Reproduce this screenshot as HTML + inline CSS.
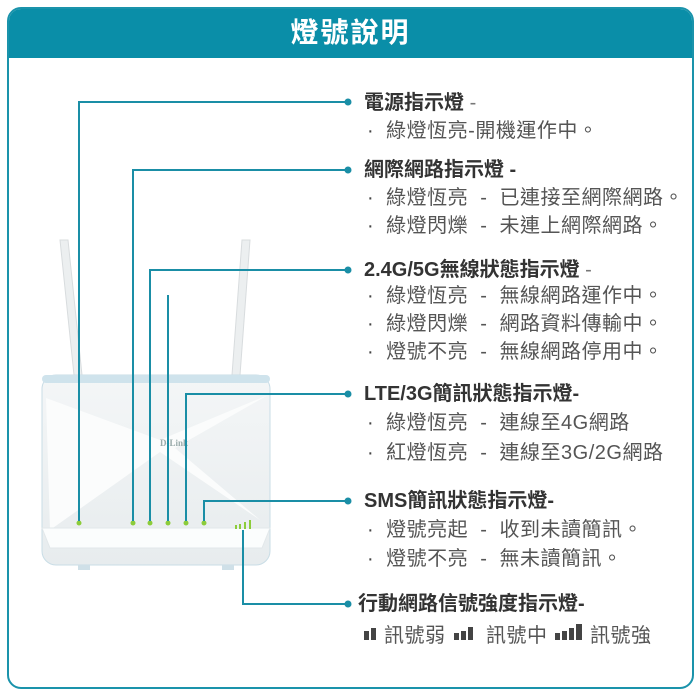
<!DOCTYPE html>
<html><head><meta charset="utf-8"><style>
body{margin:0;background:#fff;width:700px;height:696px;overflow:hidden;position:relative;font-family:"Liberation Sans","Noto Sans CJK TC",sans-serif}
.box{position:absolute;left:7px;top:7px;width:683px;height:678px;border:2px solid #1a93ab;border-radius:14px;overflow:hidden}
.hd{position:absolute;left:0;top:0;right:0;height:49px;background:#0a8ea8;color:#fff;font-size:28px;font-weight:bold;text-align:center;line-height:48px;letter-spacing:2px}
.t{position:absolute;left:364px;font-size:20px;color:#555;white-space:nowrap;line-height:24px;letter-spacing:0.5px}
.b{font-weight:bold;color:#333;letter-spacing:0}
.s{left:367px}
.s:before{content:"·";margin-right:12px;color:#444}
</style></head><body>
<div class="box"><div class="hd">燈號說明</div></div>
<svg width="700" height="696" style="position:absolute;left:0;top:0">
<defs><linearGradient id="g" x1="0" y1="0" x2="0" y2="1"><stop offset="0" stop-color="#f4f6f7"/><stop offset="1" stop-color="#e7ecee"/></linearGradient></defs>
<polygon points="60,240 68,240 82,375 74,375" fill="#eceff0" stroke="#d8dcde"/>
<polygon points="242,240 250,240 240,375 232,375" fill="#eceff0" stroke="#d8dcde"/>
<rect x="42" y="375" width="228" height="190" rx="14" fill="url(#g)" stroke="#c9dde6"/>
<rect x="42" y="375" width="228" height="8" rx="4" fill="#cfe3ec"/>
<polygon points="46,398 160,440 268,395 175,448 260,520 160,452 50,530" fill="#fbfcfc"/>
<polygon points="42,528 270,528 262,548 50,548" fill="#fbfdfd" stroke="#e2e8ea"/>
<text x="160" y="446" font-size="9" font-weight="bold" fill="#9aa" font-family="Liberation Serif">D-Link</text>
<rect x="78" y="565" width="12" height="5" fill="#cfe0e8"/><rect x="222" y="565" width="12" height="5" fill="#cfe0e8"/>
<g fill="#8ccc3a"><circle cx="79" cy="523" r="2.5"/><circle cx="133" cy="523" r="2.5"/><circle cx="150" cy="523" r="2.5"/><circle cx="168" cy="523" r="2.5"/><circle cx="186" cy="523" r="2.5"/><circle cx="204" cy="523" r="2.5"/>
<rect x="235" y="525" width="2" height="4"/><rect x="239" y="524" width="2" height="5"/><rect x="244" y="522" width="2" height="7"/><rect x="249" y="520" width="2" height="9"/></g>
<g stroke="#1a8ea6" stroke-width="2" fill="none">
<polyline points="79,521 79,102 346,102"/>
<polyline points="133,521 133,170 346,170"/>
<polyline points="150,521 150,270 346,270"/>
<line x1="168" y1="295" x2="168" y2="521"/>
<polyline points="186,521 186,394 346,394"/>
<polyline points="204,521 204,501 346,501"/>
<polyline points="243,530 243,604 346,604"/>
</g>
<g fill="#1a8ea6"><circle cx="348" cy="102" r="3.5"/><circle cx="348" cy="170" r="3.5"/><circle cx="348" cy="270" r="3.5"/><circle cx="348" cy="394" r="3.5"/><circle cx="348" cy="501" r="3.5"/><circle cx="348" cy="604" r="3.5"/></g>
<g fill="#444">
<rect x="364" y="631" width="5" height="9"/><rect x="371" y="628" width="5" height="12"/>
<rect x="454" y="633" width="5" height="7"/><rect x="461" y="631" width="5" height="9"/><rect x="468" y="627" width="5" height="13"/>
<rect x="555" y="633" width="5" height="7"/><rect x="562" y="631" width="5" height="9"/><rect x="569" y="628" width="5" height="12"/><rect x="576" y="624" width="6" height="16"/>
</g>
</svg>
<div class="t b" style="top:91px">電源指示燈 <span style="font-weight:normal;color:#777">-</span></div>
<div class="t s" style="top:119px">綠燈恆亮-開機運作中。</div>
<div class="t b" style="top:158px">網際網路指示燈 -</div>
<div class="t s" style="top:186px">綠燈恆亮 &nbsp;-&nbsp; 已連接至網際網路。</div>
<div class="t s" style="top:214px">綠燈閃爍 &nbsp;-&nbsp; 未連上網際網路。</div>
<div class="t b" style="top:258px">2.4G/5G無線狀態指示燈 <span style="font-weight:normal;color:#777">-</span></div>
<div class="t s" style="top:284px">綠燈恆亮 &nbsp;-&nbsp; 無線網路運作中。</div>
<div class="t s" style="top:312px">綠燈閃爍 &nbsp;-&nbsp; 網路資料傳輸中。</div>
<div class="t s" style="top:340px">燈號不亮 &nbsp;-&nbsp; 無線網路停用中。</div>
<div class="t b" style="top:382px">LTE/3G簡訊狀態指示燈-</div>
<div class="t s" style="top:411px">綠燈恆亮 &nbsp;-&nbsp; 連線至4G網路</div>
<div class="t s" style="top:441px">紅燈恆亮 &nbsp;-&nbsp; 連線至3G/2G網路</div>
<div class="t b" style="top:489px">SMS簡訊狀態指示燈-</div>
<div class="t s" style="top:518px">燈號亮起 &nbsp;-&nbsp; 收到未讀簡訊。</div>
<div class="t s" style="top:547px">燈號不亮 &nbsp;-&nbsp; 無未讀簡訊。</div>
<div class="t b" style="top:592px;left:358px">行動網路信號強度指示燈-</div>
<div class="t" style="top:624px;left:384px">訊號弱</div>
<div class="t" style="top:624px;left:486px">訊號中</div>
<div class="t" style="top:624px;left:590px">訊號強</div>
</body></html>
